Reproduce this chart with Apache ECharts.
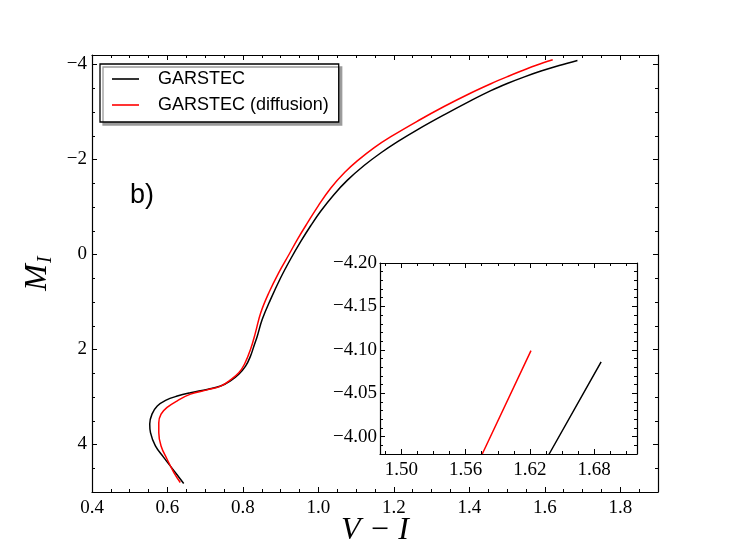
<!DOCTYPE html>
<html>
<head>
<meta charset="utf-8">
<script src="https://cdn.jsdelivr.net/npm/echarts@6/dist/echarts.min.js"></script>
<style>
html,body{margin:0;padding:0;background:#fff;}
#chart{width:731px;height:548px;}
</style>
</head>
<body>
<div id="chart"></div>
<script>
// ---- data (V-I, M_I) ----
const seriesNames = ['GARSTEC', 'GARSTEC (diffusion)'];
const garstec = [
  [0.643,4.82],[0.617,4.55],[0.590,4.27],[0.568,4.03],[0.555,3.75],[0.553,3.57],
  [0.559,3.36],[0.573,3.19],[0.595,3.07],[0.626,2.98],[0.661,2.91],[0.705,2.84],
  [0.741,2.77],[0.767,2.66],[0.789,2.52],[0.807,2.35],[0.820,2.14],[0.829,1.93],
  [0.838,1.72],[0.851,1.37],[0.873,0.95],[0.900,0.49],[0.926,0.10],[0.953,-0.27],
  [0.980,-0.61],[1.006,-0.91],[1.041,-1.26],[1.077,-1.565],[1.121,-1.873],[1.165,-2.137],
  [1.210,-2.376],[1.263,-2.63],[1.333,-2.94],[1.404,-3.24],[1.457,-3.45],[1.502,-3.605],
  [1.546,-3.74],[1.590,-3.862],[1.638,-3.98],[1.6865,-4.086]
];
const garstecDiff = [
  [0.634,4.80],[0.617,4.59],[0.599,4.31],[0.583,4.03],[0.577,3.75],[0.577,3.54],
  [0.583,3.36],[0.599,3.22],[0.626,3.08],[0.661,2.94],[0.705,2.85],[0.741,2.77],
  [0.767,2.64],[0.789,2.49],[0.804,2.31],[0.820,2.00],[0.833,1.65],[0.847,1.23],
  [0.869,0.80],[0.895,0.38],[0.922,0.00],[0.946,-0.34],[0.973,-0.69],[1.000,-1.03],
  [1.033,-1.40],[1.070,-1.73],[1.103,-1.97],[1.148,-2.25],[1.192,-2.48],[1.263,-2.81],
  [1.333,-3.115],[1.404,-3.40],[1.457,-3.595],[1.502,-3.748],[1.546,-3.889],
  [1.5755,-3.98],[1.621,-4.099]
];
// ---- tick labels ----
const mainXTicks = [0.4,0.6,0.8,1.0,1.2,1.4,1.6,1.8];
const mainYTicks = [-4,-2,0,2,4];
const insetXTicks = [1.50,1.56,1.62,1.68];
const insetYTicks = [-4.20,-4.15,-4.10,-4.05,-4.00];

function steps(a, b, s, exclude) {
  const out = [];
  const n = Math.round((b - a) / s);
  for (let i = 0; i <= n; i++) {
    const v = Math.round((a + i * s) * 10000) / 10000;
    if (!exclude.some(e => Math.abs(e - v) < 1e-6)) out.push(v);
  }
  return out;
}
const mainXMinor = steps(0.45, 1.85, 0.05, mainXTicks);
const mainYMinor = steps(-3.5, 4.5, 0.5, mainYTicks);
const insetXMinor = steps(1.485, 1.71, 0.015, insetXTicks);
const insetYMinor = steps(-4.19, -3.98, 0.01, insetYTicks);

const minus = v => String(v).replace('-', '\u2212');
const serif = 'Liberation Serif';

function frame(dim, grid, min, max, inverse, majors, minors, fmt, margin, extra) {
  const pos = dim === 'x' ? ['bottom', 'top'] : ['left', 'right'];
  const base = {type: 'value', gridIndex: grid, min: min, max: max, inverse: inverse, z: 5,
    splitLine: {show: false}, splitArea: {show: false}};
  const line = {show: true, onZero: false, lineStyle: {color: '#000', width: 1.2}};
  const noLine = {show: false, onZero: false};
  const tick = (vals, len) => ({show: true, inside: true, length: len, customValues: vals,
    lineStyle: {color: '#000', width: 1}});
  return [
    Object.assign({}, base, {position: pos[0], axisLine: line, axisTick: tick(majors, 5),
      axisLabel: {show: true, customValues: majors, formatter: fmt, margin: margin,
        color: '#000', fontFamily: serif, fontSize: 19}}, extra || {}),
    Object.assign({}, base, {position: pos[0], axisLine: noLine, axisTick: tick(minors, 3),
      axisLabel: {show: false}}),
    Object.assign({}, base, {position: pos[1], axisLine: line, axisTick: tick(majors, 5),
      axisLabel: {show: false}}),
    Object.assign({}, base, {position: pos[1], axisLine: noLine, axisTick: tick(minors, 3),
      axisLabel: {show: false}})
  ];
}

const xAxes = [].concat(
  frame('x', 0, 0.4, 1.9, false, mainXTicks, mainXMinor, v => v.toFixed(1), 7, {
    name: 'V \u2212 I', nameLocation: 'middle', nameGap: 23, nameMoveOverlap: false,
    nameTextStyle: {fontFamily: serif, fontStyle: 'italic', fontSize: 32, color: '#000',
      verticalAlign: 'top'}
  }),
  frame('x', 1, 1.48, 1.72, false, insetXTicks, insetXMinor, v => v.toFixed(2), 7)
);
const yAxes = [].concat(
  frame('y', 0, -4.2, 5, true, mainYTicks, mainYMinor, v => minus(v), 5, {
    name: '{m|M}{s|I}', nameLocation: 'middle', nameGap: 38,
    nameTextStyle: {rich: {
      m: {fontFamily: serif, fontStyle: 'italic', fontSize: 32, color: '#000'},
      s: {fontFamily: serif, fontStyle: 'italic', fontSize: 20, color: '#000',
        verticalAlign: 'bottom', padding: [0, 0, -2, 1]}
    }}
  }),
  frame('y', 1, -4.2, -3.98, true, insetYTicks, insetYMinor, v => minus(v.toFixed(2)), 3)
);

const lineStyles = [{color: '#000', width: 1.5}, {color: '#ff0000', width: 1.5}];
const dataSets = [garstec, garstecDiff];
const series = [];
dataSets.forEach((d, i) => {
  series.push({type: 'line', name: seriesNames[i], data: d, xAxisIndex: 0, yAxisIndex: 0,
    symbol: 'none', smooth: 0.4, lineStyle: lineStyles[i], itemStyle: {color: lineStyles[i].color},
    clip: true, z: 3});
});
dataSets.forEach((d, i) => {
  series.push({type: 'line', name: seriesNames[i], data: d, xAxisIndex: 4, yAxisIndex: 4,
    symbol: 'none', smooth: false, lineStyle: lineStyles[i], itemStyle: {color: lineStyles[i].color},
    clip: true, z: 3});
});

const chart = echarts.init(document.getElementById('chart'), null, {renderer: 'canvas'});
chart.setOption({
  animation: false,
  backgroundColor: '#fff',
  grid: [
    {left: 92, top: 55, width: 566, height: 437, containLabel: false, outerBoundsMode: 'none'},
    {left: 380, top: 263, width: 257, height: 191, containLabel: false, outerBoundsMode: 'none'}
  ],
  xAxis: xAxes,
  yAxis: yAxes,
  legend: {
    data: seriesNames,
    orient: 'vertical',
    left: 100, top: 64,
    padding: [5, 10, 7, 12],
    itemGap: 6,
    icon: 'rect',
    itemWidth: 27, itemHeight: 1.6,
    backgroundColor: '#fff',
    borderColor: '#000', borderWidth: 1.3, borderRadius: 0,
    shadowColor: '#9a9a9a', shadowBlur: 0, shadowOffsetX: 3, shadowOffsetY: 3,
    textStyle: {fontFamily: 'Liberation Sans', fontSize: 18, color: '#000',
      padding: [0, 0, 0, 14], lineHeight: 20},
    selectedMode: false
  },
  graphic: [{
    type: 'text', left: 130, top: 182,
    style: {text: 'b)', fontFamily: 'Liberation Sans', fontSize: 27, fill: '#000'}
  }],
  series: series
});
</script>
</body>
</html>
